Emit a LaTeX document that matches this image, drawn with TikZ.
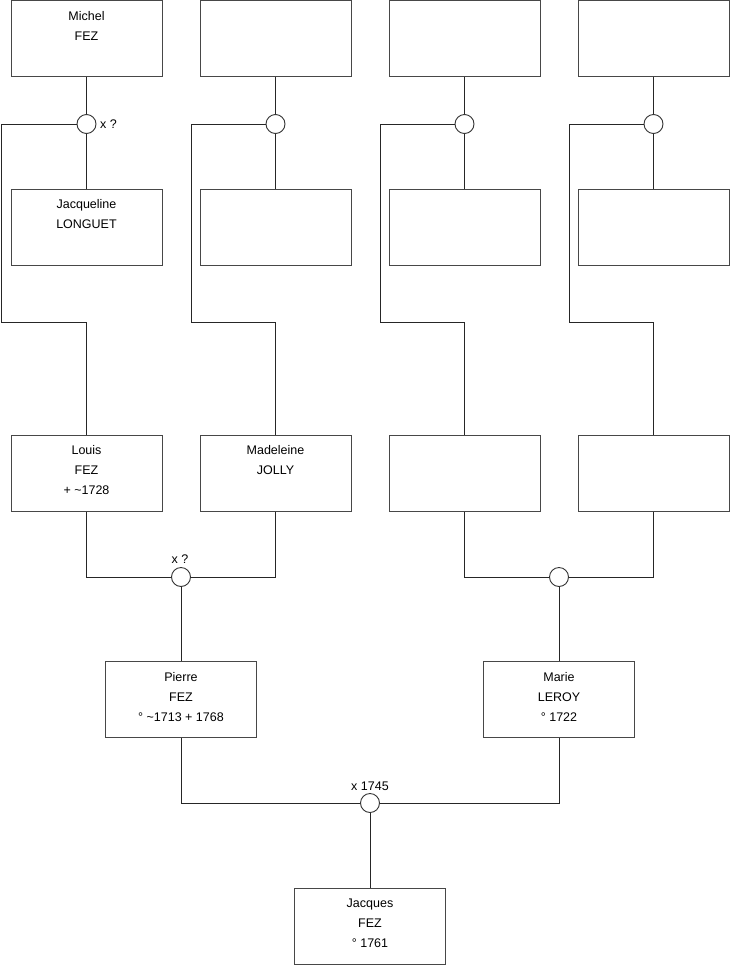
\documentclass[tikz,border=0pt]{standalone}
\usepackage{fontspec}
\setmainfont{Liberation Sans}
\begin{document}
\begin{tikzpicture}[x=1pt,y=-1pt,
  person/.style={draw=black!72,line width=1pt,fill=white,minimum width=151pt,minimum height=76pt,inner sep=0pt},
  ptext/.style={anchor=north,align=center,inner sep=0pt,font=\fontsize{12.5}{20}\selectfont},
  union/.style={circle,draw=black!80,line width=0.9pt,fill=white,minimum size=19pt,inner sep=0pt},
  link/.style={draw=black!85,line width=1pt},
  lab/.style={inner sep=0pt,font=\fontsize{12.5}{15}\selectfont}]
\useasboundingbox (0,0) rectangle (740,975);
\fill[white] (0,0) rectangle (740,975);
% row 1
\node[person] (a1) at (86.5,38.5) {};
\node[person] (a2) at (275.5,38.5) {};
\node[person] (a3) at (464.5,38.5) {};
\node[person] (a4) at (653.5,38.5) {};
\node[ptext] (ta1) at ([yshift=-11pt]a1.north) {Michel\\FEZ};
% unions row 1
\node[union] (u1) at (86.5,124) {};
\node[union] (u2) at (275.5,124) {};
\node[union] (u3) at (464.5,124) {};
\node[union] (u4) at (653.5,124) {};
\node[lab,anchor=west] (lu1) at (100,124) {x ?};
% row 2
\node[person] (b1) at (86.5,227) {};
\node[person] (b2) at (275.5,227) {};
\node[person] (b3) at (464.5,227) {};
\node[person] (b4) at (653.5,227) {};
\node[ptext] (tb1) at ([yshift=-11pt]b1.north) {Jacqueline\\LONGUET};
% row 3
\node[person] (c1) at (86.5,473) {};
\node[person] (c2) at (275.5,473) {};
\node[person] (c3) at (464.5,473) {};
\node[person] (c4) at (653.5,473) {};
\node[ptext] (tc1) at ([yshift=-11pt]c1.north) {Louis\\FEZ\\+ \textasciitilde1728};
\node[ptext] (tc2) at ([yshift=-11pt]c2.north) {Madeleine\\JOLLY};
% unions row 3
\node[union] (v1) at (181,577) {};
\node[union] (v2) at (559,577) {};
\node[lab,anchor=base] (lv1) at (180,563) {x ?};
% row 4
\node[person] (d1) at (181,699.5) {};
\node[person] (d2) at (559,699.5) {};
\node[ptext] (td1) at ([yshift=-11pt]d1.north) {Pierre\\FEZ\\° \textasciitilde1713 + 1768};
\node[ptext] (td2) at ([yshift=-11pt]d2.north) {Marie\\LEROY\\° 1722};
% union row 4
\node[union] (w1) at (370,803) {};
\node[lab,anchor=base] (lw1) at (370,790) {x 1745};
% row 5
\node[person] (e1) at (370,926) {};
\node[ptext] (te1) at ([yshift=-11pt]e1.north) {Jacques\\FEZ\\° 1761};
% corner coordinates
\coordinate (k1) at (1.5,322);
\coordinate (k2) at (191,322);
\coordinate (k3) at (380,322);
\coordinate (k4) at (569,322);
% connectors
\foreach \i in {1,2,3,4}{
  \draw[link] (a\i.south) -- (u\i.north);
  \draw[link] (u\i.south) -- (b\i.north);
  \draw[link] (u\i.west) -| (k\i) -| (c\i.north);
}
\draw[link] (c1.south) |- (v1.west);
\draw[link] (c2.south) |- (v1.east);
\draw[link] (c3.south) |- (v2.west);
\draw[link] (c4.south) |- (v2.east);
\draw[link] (v1.south) -- (d1.north);
\draw[link] (v2.south) -- (d2.north);
\draw[link] (d1.south) |- (w1.west);
\draw[link] (d2.south) |- (w1.east);
\draw[link] (w1.south) -- (e1.north);
\end{tikzpicture}
\end{document}
